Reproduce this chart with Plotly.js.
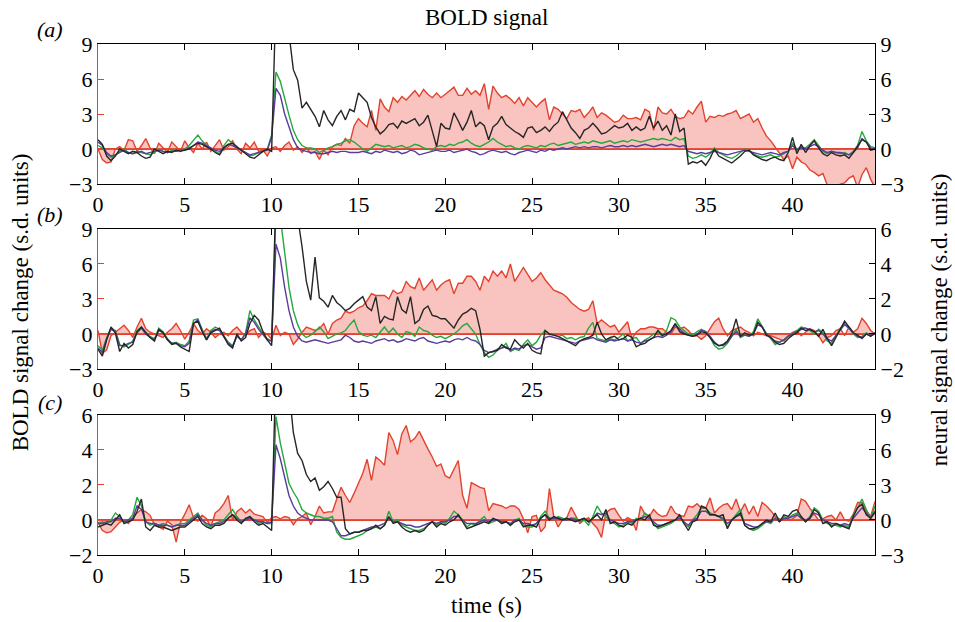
<!DOCTYPE html>
<html><head><meta charset="utf-8">
<script src="https://cdn.plot.ly/plotly-3.0.1.min.js"></script>
<style>html,body{margin:0;padding:0;background:#fff}#chart{width:955px;height:622px}</style>
</head><body><div id="chart"></div>
<script>
// sampling interval of all series (s)
const dt = 0.25;
const nSamples = 180;

// ---------- panel (a) ----------
const aNeural = [0,-0.9,-1.2,-1.1,0,0.2,-0.1,0.8,0.7,-0.2,0.3,0.9,0.1,-0.4,0.5,0.1,-0.3,0.6,0.2,-0.2,
0.7,0.1,-0.3,0.5,0.0,0.6,-0.2,0.3,0.8,-0.1,0.2,0.7,0.0,-0.4,0.5,0.1,0.6,-0.2,-0.1,-0.6,
0.1,0.2,-0.2,0.3,0.6,-0.1,0.2,-0.3,0.1,-0.4,-0.2,-0.9,-0.1,-0.5,0.2,0.4,0.3,0.9,0.5,2.0,
2.6,2.2,1.9,3.3,1.6,4.3,3.6,3.2,4.4,4.0,4.5,4.2,4.6,5.0,4.5,5.1,4.7,4.4,4.8,4.4,
4.7,5.0,5.3,4.6,4.6,5.2,4.7,5.0,4.6,5.6,3.4,5.4,4.8,4.4,4.6,4.3,3.9,4.4,3.7,4.4,
4.0,3.6,4.0,4.3,2.5,3.6,3.4,3.0,2.6,3.3,3.2,3.4,2.7,3.1,3.6,2.7,3.1,2.9,2.6,2.3,
2.4,2.9,2.6,2.6,2.7,2.5,3.4,3.2,1.6,3.6,3.1,3.0,3.4,2.8,2.6,2.7,3.3,3.0,3.6,4.1,
2.3,2.8,2.7,2.9,2.8,3.0,3.1,3.3,2.6,2.8,3.0,2.3,2.6,1.8,1.1,0.7,0.2,-0.4,-0.9,-0.6,
-1.7,-0.7,-1.1,-1.3,-1.8,-2.0,-2.3,-2.1,-3.1,-3.3,-3.4,-3.0,-2.9,-2.5,-2.3,-3.3,-2.2,-1.6,-2.6,-3.3];
const aGreen = [0.3,0.1,-0.4,-0.7,-0.5,-0.2,0.0,-0.3,-0.4,-0.2,-0.3,-0.4,-0.5,-0.3,0.0,-0.2,-0.3,-0.1,-0.2,-0.1,
0.0,0.3,0.8,1.2,0.7,0.3,0.0,-0.2,-0.4,0.3,0.8,0.5,0.2,-0.1,-0.3,-0.6,-0.5,-0.3,-0.2,0.0,
1.2,6.6,5.8,4.3,2.9,1.6,0.8,0.3,0.1,0.1,0.0,-0.3,-0.1,0.1,0.2,0.4,0.5,0.7,0.8,0.6,
0.3,0.0,-0.2,0.1,0.4,0.3,0.2,0.3,0.1,0.2,0.3,0.1,0.2,0.4,0.3,0.1,0.0,-0.1,0.2,0.3,
0.2,0.4,0.3,0.5,0.6,0.8,0.5,0.3,0.2,0.4,0.6,0.9,0.6,0.4,0.2,0.3,0.1,0.0,0.2,0.3,
0.2,0.1,0.3,0.2,0.4,0.5,0.3,0.4,0.5,0.6,0.4,0.5,0.6,0.5,0.7,0.6,0.5,0.6,0.7,0.5,
0.6,0.7,0.6,0.8,0.7,0.6,0.7,0.8,0.9,0.8,0.9,0.8,0.7,1.0,0.8,0.9,-0.6,-0.8,-0.7,-0.5,
-0.7,-0.4,0.1,-0.3,-0.5,-0.7,-0.8,-0.6,-0.3,0.0,-0.1,-0.4,-0.6,-0.7,-0.6,-0.5,-0.7,-0.6,-0.4,-0.2,
0.5,0.0,0.2,0.1,0.4,0.8,0.3,-0.2,-0.4,-0.2,-0.3,-0.4,-0.3,-0.5,-0.2,0.3,1.5,0.7,0.2,0.1];
const aPurple = [0.6,0.3,-0.3,-0.6,-0.5,-0.3,-0.1,-0.3,-0.4,-0.3,-0.2,-0.4,-0.3,-0.2,-0.1,-0.2,-0.3,-0.2,-0.2,-0.1,
-0.1,0.1,0.3,0.6,0.5,0.3,0.1,-0.1,-0.2,0.1,0.4,0.3,0.1,-0.1,-0.3,-0.5,-0.4,-0.3,-0.2,-0.1,
1.0,5.2,4.6,3.0,1.9,0.8,0.1,-0.1,-0.2,-0.3,-0.3,-0.4,-0.4,-0.3,-0.2,-0.3,-0.2,-0.2,-0.3,-0.3,
-0.3,-0.2,-0.3,-0.4,-0.2,-0.3,-0.1,-0.2,-0.3,-0.2,-0.4,-0.3,-0.1,-0.2,-0.5,-0.4,-0.3,-0.2,-0.1,-0.2,
-0.2,-0.1,-0.3,-0.2,-0.1,0.0,-0.2,-0.3,-0.5,-0.4,-0.2,-0.1,-0.2,-0.3,-0.2,-0.4,-0.5,-0.3,-0.2,-0.1,
-0.2,-0.3,-0.1,-0.2,0.0,-0.1,0.0,0.1,0.0,0.1,0.2,0.1,0.2,0.1,0.2,0.2,0.1,0.2,0.3,0.2,
0.2,0.3,0.2,0.3,0.2,0.3,0.4,0.3,0.2,0.3,0.4,0.3,0.4,0.3,0.2,0.3,-0.2,-0.3,-0.4,-0.3,
-0.4,-0.3,-0.2,-0.3,-0.4,-0.5,-0.4,-0.3,-0.2,-0.1,-0.2,-0.3,-0.4,-0.5,-0.4,-0.3,-0.4,-0.5,-0.3,-0.2,
0.3,-0.1,0.1,0.0,0.2,0.4,0.2,-0.1,-0.3,-0.2,-0.3,-0.3,-0.4,-0.5,-0.3,0.1,0.9,0.6,0.1,0.0];
const aBlack = [0.8,0.4,-0.6,-1.0,-0.6,0.0,-0.2,-0.4,-0.2,-0.3,-0.6,-0.8,-0.7,0.0,-0.2,-0.4,-0.2,-0.3,-0.1,-0.2,
-0.1,0.0,0.3,0.5,0.4,0.2,0.0,-0.3,-0.5,0.1,0.4,0.5,0.2,-0.1,-0.4,-0.7,-0.8,-0.5,-0.2,0.0,
-0.2,13,14,13,10,6.8,5.9,3.5,4.0,3.4,2.8,1.9,3.3,2.5,2.0,2.8,3.3,2.5,3.4,3.2,
4.8,4.4,4.0,2.7,1.9,1.3,1.6,2.1,2.2,1.8,2.4,2.2,2.4,2.6,2.0,2.3,2.9,1.6,0.2,2.2,
1.8,1.7,3.1,2.4,1.6,2.3,3.3,1.9,2.3,2.0,0.8,1.9,2.2,2.8,2.1,1.8,1.5,1.3,1.0,1.8,
1.9,1.4,1.6,1.9,1.5,2.0,2.3,3.2,2.5,1.8,1.4,0.9,1.6,1.8,2.2,1.8,1.3,1.4,1.7,2.0,
1.8,1.9,2.2,1.6,1.9,1.6,1.8,2.8,1.8,2.4,1.6,2.0,1.2,3.0,1.5,1.8,-1.3,-1.1,-1.2,-1.0,
-1.4,-0.8,0.0,-0.6,-0.8,-1.0,-1.2,-0.9,-0.6,-0.2,-0.1,-0.5,-0.7,-0.9,-1.0,-0.8,-0.7,-0.9,-1.0,-0.3,
1.0,-0.4,0.4,-0.3,0.3,0.7,0.1,-0.4,-0.6,-0.3,-0.5,-0.6,-0.5,-0.8,-0.3,0.2,0.8,0.6,-0.1,0.0];

// ---------- panel (b) ----------
const bNeural = [0.2,-1.1,-0.9,-0.1,0.1,0.3,0.5,0.2,-0.2,0.4,0.9,0.3,0.1,0.0,-0.1,-0.2,0.1,0.3,0.6,0.2,
-0.3,0.1,0.6,0.2,0.0,0.3,0.1,-0.2,0.0,0.1,-0.1,0.2,0.4,0.1,-0.1,0.2,0.3,-0.2,0.1,0.0,
-0.3,0.5,-0.1,0.1,0.0,-0.6,-0.3,0.1,0.4,0.3,0.2,0.3,0.6,0.0,0.6,0.8,0.9,1.3,1.2,1.3,
1.5,1.6,1.9,2.3,2.2,2.2,2.2,2.0,2.5,2.3,2.4,3.0,2.7,2.6,3.2,2.5,2.8,3.1,2.5,2.8,
3.0,3.1,2.3,2.9,2.9,3.3,3.3,3.0,2.5,3.3,3.0,3.6,3.3,3.6,3.2,4.0,3.0,3.4,3.8,3.4,
3.0,3.2,3.5,3.1,2.8,2.5,2.4,2.3,2.1,1.8,1.6,1.4,1.3,1.4,1.9,0.6,0.8,0.6,0.4,0.5,
0.1,0.4,0.7,-0.3,0.1,0.3,0.3,0.4,0.4,0.3,0.3,0.1,0.0,0.4,0.3,0.4,0.2,-0.1,-0.1,-0.3,
-0.1,0.3,0.7,0.9,0.3,-0.1,0.2,0.3,0.4,0.2,0.1,-0.1,0.1,0.0,-0.1,-0.1,-0.2,-0.3,-0.4,-0.1,
0.1,0.2,-0.1,0.1,0.3,0.2,-0.1,-0.5,-0.2,-0.1,0.2,0.3,-0.1,0.4,0.1,0.3,0.9,0.6,0.2,0.0];
const bGreen = [-1.0,-1.4,-0.3,0.5,0.3,-0.9,-1.1,-0.9,-0.6,0.3,0.6,0.0,-0.2,-0.4,0.5,0.2,-0.4,-0.8,-0.7,-0.9,
-1.0,-0.6,1.2,1.3,0.4,-0.4,0.3,0.6,0.4,-0.1,-0.7,-1.0,-0.2,-0.5,0.1,2.0,1.2,0.6,0.0,-0.4,
-0.6,10.5,10.0,7.0,4.0,2.0,0.8,0.0,-0.3,-0.1,0.2,0.6,0.2,-0.4,-0.2,0.0,0.1,0.3,0.8,1.2,
0.2,-0.1,-0.2,-0.1,-0.3,0.2,0.6,0.1,0.5,0.0,-0.3,0.2,0.1,-0.2,0.6,0.3,0.2,-0.1,-0.3,-0.2,
-0.4,-0.2,0.0,0.3,0.7,0.9,0.4,0.0,-0.9,-1.6,-2.0,-1.8,-1.4,-1.2,-0.8,-1.5,-1.3,-1.4,-0.9,-0.5,
-1.0,-0.7,-0.1,0.3,0.0,-0.1,-0.2,-0.1,-0.4,-0.3,-0.5,-0.3,-0.2,0.5,1.0,-0.4,-0.5,-0.6,-0.4,-0.5,
-0.3,0.0,-0.6,-0.4,-0.3,-0.8,-0.5,-0.3,0.0,0.1,-0.2,0.3,1.4,1.2,0.6,0.3,0.0,-0.1,0.2,0.4,
0.2,-0.3,-1.0,-1.3,-1.2,-0.8,-0.2,0.4,-0.3,-0.1,-0.2,0.2,1.3,0.7,0.0,-0.4,-0.9,-0.7,-0.5,-0.2,
0.0,0.3,0.6,0.5,0.3,0.0,0.4,0.1,-0.6,-0.8,-0.1,0.5,0.9,0.5,0.0,-0.3,-0.2,0.1,-0.1,0.0];
const bPurple = [-1.2,-1.6,-0.4,0.4,0.2,-1.0,-1.0,-0.8,-0.7,0.1,0.5,0.0,-0.3,-0.5,0.3,0.1,-0.5,-0.8,-0.8,-1.0,
-1.1,-0.8,0.9,1.2,0.3,-0.5,0.2,0.4,0.3,-0.2,-0.8,-1.1,-0.2,-0.5,0.0,1.4,1.0,0.4,-0.1,-0.5,
-0.6,7.7,6.5,4.0,2.0,0.6,-0.2,-0.6,-0.7,-0.6,-0.5,-0.6,-0.7,-0.8,-0.7,-0.6,-0.5,-0.1,-0.3,-0.6,
-0.7,-0.6,-0.7,-0.8,-0.6,-0.5,-0.4,-0.6,-0.5,-0.7,-0.6,-0.4,-0.5,-0.6,-0.4,-0.3,-0.6,-0.7,-0.8,-0.7,
-0.6,-0.7,-0.5,-0.4,-0.5,-0.3,-0.5,-0.6,-0.9,-1.4,-1.6,-1.5,-1.3,-1.2,-1.1,-1.4,-1.2,-1.3,-1.0,-0.9,
-1.1,-1.3,-1.2,-0.3,-0.2,-0.3,-0.4,-0.5,-0.6,-0.7,-0.8,-0.6,-0.5,-0.4,-0.3,-0.5,-0.6,-0.7,-0.5,-0.6,
-0.5,-0.4,-0.6,-0.5,-0.7,-0.8,-0.6,-0.5,-0.3,-0.2,-0.3,-0.1,0.2,0.8,0.4,0.1,-0.1,-0.2,0.0,0.3,
0.2,-0.2,-0.7,-1.0,-1.0,-0.7,-0.2,0.2,-0.2,-0.1,-0.2,0.0,0.8,0.6,0.0,-0.3,-0.6,-0.7,-0.5,-0.2,
0.0,0.2,0.4,0.5,0.4,0.2,0.3,0.0,-0.4,-0.6,-0.1,0.4,0.8,0.5,0.1,-0.2,-0.3,0.0,-0.1,0.0];
const bBlack = [-1.3,-1.9,-0.5,0.6,0.1,-1.5,-0.8,-1.2,-0.9,0.2,0.6,0.1,-0.3,-0.6,0.4,0.1,-0.5,-0.9,-0.8,-1.1,
-1.3,-1.5,0.9,1.1,0.2,-0.5,0.1,0.3,0.5,-0.2,-0.9,-1.2,0.0,-0.6,-0.3,0.9,1.6,1.2,0.2,-0.5,
-1.0,12,14,14,13,12,10,7.5,4.5,2.9,6.6,3.1,2.8,2.3,3.3,2.7,2.4,2.0,2.2,2.6,
2.9,3.2,2.3,2.0,3.2,0.9,1.5,1.3,1.2,3.2,2.1,1.8,3.2,0.9,1.2,2.1,2.4,1.6,1.5,1.3,
1.3,0.9,0.5,1.2,1.7,1.9,2.2,2.0,0.4,-1.9,-1.6,-1.5,-1.4,-0.9,-1.2,-1.3,-0.5,-0.9,-1.2,-0.8,
-1.4,-1.6,-1.7,0.3,0.0,-0.1,-0.2,-0.4,-0.6,-0.8,-1.0,-0.6,-0.4,-0.3,-0.1,1.0,0.0,-0.5,-0.3,-0.2,
-0.5,-0.4,-0.1,-0.3,-1.1,-0.9,-0.8,-0.5,-0.3,0.3,-0.1,0.0,0.3,0.9,0.2,0.0,-0.1,-0.2,-0.1,0.2,
0.1,-0.3,-0.8,-1.0,-0.9,-0.6,0.0,1.3,-0.2,0.1,-0.1,0.0,1.0,0.6,-0.1,-0.3,-0.7,-0.9,-0.8,-0.4,
-0.1,0.1,0.5,0.3,0.4,0.2,-0.2,0.4,-0.4,-1.0,-0.3,0.4,1.1,0.6,0.1,-0.1,-0.4,0.0,-0.2,0.1];

// ---------- panel (c) ----------
const cNeural = [-0.2,-0.9,-1.1,-1.0,-0.6,-0.2,0.0,-0.3,0.2,0.6,0.9,0.7,0.4,-0.4,-0.6,-0.8,-0.1,-0.4,-1.9,-0.2,
0.5,1.3,0.2,-0.1,0.4,0.1,-0.6,0.6,0.9,1.4,2.1,0.0,0.7,1.0,0.6,0.9,0.5,0.4,0.3,-0.2,
0.2,0.3,0.1,0.3,0.2,-0.4,0.1,0.3,0.6,-0.4,0.3,1.2,0.6,0.7,0.7,1.8,2.8,2.1,1.5,2.3,
3.1,4.0,5.2,3.4,5.4,5.1,4.7,7.5,6.8,5.6,7.4,8.1,6.7,7.0,7.6,6.8,6.1,5.4,4.6,4.8,
3.8,3.6,4.4,5.1,2.1,1.0,3.2,3.0,2.8,2.7,0.8,1.4,1.3,1.2,1.0,1.2,1.2,0.9,0.1,-1.1,
0.3,0.4,-1.0,-0.6,2.7,0.3,-0.6,0.0,0.2,1.1,0.4,-0.3,0.0,0.2,-0.3,-0.7,-1.5,0.6,0.9,1.0,
0.4,-0.1,0.2,0.0,-0.9,1.2,0.5,0.3,0.9,0.5,0.3,0.4,1.2,0.6,0.4,0.3,1.2,1.1,1.4,1.0,
1.0,1.9,0.6,1.0,1.3,1.4,0.9,1.8,0.7,1.4,0.5,1.2,0.3,1.5,1.2,0.8,0.3,0.1,0.0,0.0,
0.1,0.4,1.8,1.6,1.0,0.5,0.0,0.1,0.3,0.4,0.0,0.7,0.0,-0.1,0.5,1.5,1.5,0.8,0.3,1.6];
const cGreen = [-0.2,-0.1,-0.2,0.0,0.4,0.2,-0.1,0.0,0.3,1.3,0.8,-0.1,-0.3,-0.2,-0.3,-0.2,-0.3,-0.4,-0.3,-0.2,
-0.2,0.0,0.2,0.4,0.0,-0.3,-0.4,-0.2,-0.1,0.0,0.3,0.6,0.2,-0.1,0.0,0.2,0.0,-0.2,-0.1,-0.2,
-0.2,5.9,4.4,3.2,2.1,1.6,1.2,0.6,0.4,0.3,0.2,0.2,0.1,0.1,0.2,-0.7,-1.0,-1.1,-1.1,-1.0,
-0.9,-0.8,-0.6,-0.5,-0.4,-0.5,-0.3,0.5,-0.1,0.0,-0.3,-0.4,-0.5,-0.6,-0.6,-0.5,-0.3,-0.1,-0.3,-0.1,
-0.2,0.1,0.5,0.3,0.0,-0.4,-0.2,-0.3,0.0,0.2,-0.2,-0.1,0.0,-0.2,-0.1,-0.3,0.0,0.1,-0.3,-0.4,
-0.4,-0.2,0.2,0.5,0.1,0.0,0.2,0.1,0.0,0.1,0.1,-0.1,0.0,-0.3,0.2,0.8,0.4,0.2,-0.1,-0.2,
-0.4,-0.3,-0.1,-0.2,0.1,0.0,0.4,0.2,-0.2,-0.5,-0.4,-0.3,-0.2,0.0,0.2,-0.2,-0.4,0.0,0.3,0.7,
0.7,0.4,0.3,0.2,0.0,-0.4,0.0,0.3,0.6,-0.3,-0.5,-0.6,-0.5,-0.3,-0.1,-0.2,0.1,-0.1,0.2,0.1,
0.3,0.4,0.1,-0.1,0.2,0.7,0.5,0.0,-0.2,-0.3,-0.3,-0.4,-0.3,-0.4,0.3,0.7,1.2,0.6,0.1,0.8];
const cPurple = [-0.2,-0.2,-0.1,-0.1,0.1,0.1,-0.1,0.0,0.1,0.8,0.6,-0.1,-0.2,-0.2,-0.3,-0.3,-0.3,-0.4,-0.3,-0.3,
-0.3,-0.1,0.1,0.3,0.0,-0.2,-0.3,-0.2,-0.2,-0.1,0.1,0.3,0.1,-0.1,0.0,0.1,0.0,-0.1,-0.1,-0.2,
-0.1,4.3,3.5,2.5,1.4,0.8,0.4,0.2,0.1,0.0,0.0,0.0,0.0,0.0,-0.1,-0.5,-0.9,-0.9,-0.8,-0.7,
-0.7,-0.6,-0.5,-0.4,-0.4,-0.3,-0.2,0.1,-0.1,-0.1,-0.2,-0.3,-0.3,-0.4,-0.4,-0.3,-0.2,-0.1,-0.2,-0.1,
-0.1,0.0,0.2,0.2,0.0,-0.2,-0.2,-0.2,-0.1,0.0,-0.1,0.0,0.0,-0.1,-0.1,-0.2,0.0,0.0,-0.2,-0.2,
-0.3,-0.2,0.1,0.3,0.1,0.1,0.1,0.0,0.0,0.1,0.0,0.0,0.1,-0.1,0.1,0.4,0.3,0.4,0.0,-0.1,
-0.2,-0.2,-0.1,-0.1,0.0,0.1,0.2,0.1,-0.1,-0.3,-0.3,-0.2,-0.1,0.0,0.1,-0.1,-0.3,0.0,0.1,0.5,
0.5,0.3,0.3,0.2,0.1,-0.2,0.0,0.2,0.3,-0.2,-0.3,-0.4,-0.4,-0.2,-0.1,-0.1,0.1,-0.1,0.1,0.1,
0.2,0.3,0.1,0.0,0.1,0.4,0.3,0.0,-0.1,-0.2,-0.2,-0.3,-0.2,-0.3,0.1,0.4,0.7,0.4,0.1,0.4];
const cBlack = [-0.4,-0.3,-0.2,-0.3,0.0,0.3,-0.2,-0.1,0.0,0.5,1.2,-0.4,-0.6,-0.3,-0.4,-0.4,-0.5,-0.6,-0.5,-0.4,
-0.4,-0.2,0.0,0.2,-0.2,-0.4,-0.5,-0.3,-0.3,-0.2,0.1,0.3,0.0,-0.2,0.1,0.2,-0.1,-0.3,-0.2,-0.4,
-0.6,9,11,10,7.5,5.0,3.8,3.4,2.6,2.2,2.4,1.7,1.9,2.2,1.8,1.3,1.3,-0.5,-0.8,-0.7,
-0.7,-0.6,-0.6,-0.5,-0.3,-0.5,-0.3,0.2,-0.2,-0.1,-0.4,-0.6,-0.7,-0.6,-0.7,-0.6,-0.3,-0.1,-0.4,-0.2,
-0.3,-0.1,0.0,0.3,-0.1,-0.5,-0.4,-0.3,-0.2,-0.1,-0.2,0.1,0.0,-0.2,-0.1,-0.3,-0.1,0.0,-0.4,-0.3,
-0.3,-0.4,0.1,0.3,0.0,0.2,0.1,0.0,0.1,0.0,-0.1,0.0,0.1,-0.1,0.1,0.3,0.0,0.6,-0.2,-0.1,
-0.3,-0.4,-0.2,-0.3,0.0,0.1,0.0,0.3,-0.3,-0.4,-0.3,-0.2,-0.1,0.0,0.3,-0.2,-0.6,-0.1,0.0,0.8,
0.7,0.3,0.3,0.2,0.3,-0.5,0.0,0.2,0.4,-0.3,-0.5,-0.5,-0.4,-0.2,0.0,-0.1,0.4,-0.1,0.3,0.2,
0.5,0.6,0.2,-0.1,0.1,0.6,0.4,-0.2,-0.1,-0.4,-0.2,-0.3,-0.4,-0.5,0.2,0.7,0.9,0.3,0.1,0.5];

// tick labels
const xTickVals = [0,5,10,15,20,25,30,35,40];
const panelLabels = ['(a)','(b)','(c)'];

const time = Array.from({length: nSamples}, (_, i) => i * dt);

const panels = [
  {neural: aNeural, green: aGreen, purple: aPurple, black: aBlack, bold: [-3,9,3], neur: [-3,9,3], dom: [0.7260,1.0]},
  {neural: bNeural, green: bGreen, purple: bPurple, black: bBlack, bold: [-3,9,3], neur: [-2,6,2], dom: [0.3640,0.6380]},
  {neural: cNeural, green: cGreen, purple: cPurple, black: cBlack, bold: [-2,6,2], neur: [-3,9,3], dom: [0.0,0.2740]}
];

const FONT = "'Liberation Serif', 'Times New Roman', Times, serif";
const RED = '#e2432e';
const traces = [];
const layout = {
  width: 955, height: 622,
  margin: {l: 98, r: 80, t: 44, b: 67},
  paper_bgcolor: '#fff', plot_bgcolor: 'rgba(0,0,0,0)',
  showlegend: false,
  font: {family: FONT, size: 22, color: '#000'},
  annotations: []
};

panels.forEach((p, k) => {
  const xs = k === 0 ? '' : String(k + 1);
  const yN = String(2 * k + 1), yB = String(2 * k + 2);
  const xName = 'x' + xs, yNName = 'y' + (yN === '1' ? '' : yN), yBName = 'y' + yB;
  traces.push({x: time, y: p.neural, xaxis: xName, yaxis: yNName, type: 'scatter', mode: 'lines',
    fill: 'tozeroy', fillcolor: 'rgba(240,105,95,0.40)', line: {color: RED, width: 1.4}, hoverinfo: 'skip'});
  traces.push({x: time, y: p.green, xaxis: xName, yaxis: yBName, type: 'scatter', mode: 'lines',
    line: {color: '#25a83c', width: 1.4}, hoverinfo: 'skip'});
  traces.push({x: time, y: p.purple, xaxis: xName, yaxis: yBName, type: 'scatter', mode: 'lines',
    line: {color: '#5a3c9c', width: 1.4}, hoverinfo: 'skip'});
  traces.push({x: time, y: p.black, xaxis: xName, yaxis: yBName, type: 'scatter', mode: 'lines',
    line: {color: '#262626', width: 1.4}, hoverinfo: 'skip'});

  layout['xaxis' + xs] = {
    anchor: yNName, domain: [0, 1], range: [0, 44.75],
    tickvals: xTickVals, ticks: 'inside', ticklen: 6, tickcolor: '#000', tickwidth: 1,
    showline: true, linecolor: '#000', linewidth: 1.2, mirror: 'ticks',
    showgrid: false, zeroline: false, tickfont: {family: FONT, size: 22, color: '#000'}
  };
  layout['yaxis' + (yN === '1' ? '' : yN)] = {
    anchor: xName, domain: p.dom, side: 'right', range: [p.neur[0], p.neur[1]], dtick: p.neur[2], tick0: 0,
    ticks: 'inside', ticklen: 6, tickcolor: '#000', showline: true, linecolor: '#000', linewidth: 1.2,
    showgrid: false, zeroline: true, zerolinecolor: RED, zerolinewidth: 1.6,
    tickfont: {family: FONT, size: 22, color: '#000'}
  };
  layout['yaxis' + yB] = {
    anchor: xName, overlaying: yNName, side: 'left', range: [p.bold[0], p.bold[1]], dtick: p.bold[2], tick0: 0,
    ticks: 'inside', ticklen: 6, tickcolor: RED, showline: true, linecolor: RED, linewidth: 1.2,
    showgrid: false, zeroline: false, tickfont: {family: FONT, size: 22, color: '#000'}
  };
});

const labY = [1.0274, 0.6654, 0.2994];
panelLabels.forEach((t, k) => layout.annotations.push({
  text: '<i>' + t + '</i>', xref: 'paper', yref: 'paper', x: -0.062, y: labY[k],
  showarrow: false, font: {family: FONT, size: 22, color: '#000'}, xanchor: 'center', yanchor: 'middle'
}));
layout.annotations.push({text: 'BOLD signal', xref: 'paper', yref: 'paper', x: 0.5, y: 1.051,
  showarrow: false, font: {family: FONT, size: 23, color: '#000'}, xanchor: 'center', yanchor: 'middle'});
layout.annotations.push({text: 'time (s)', xref: 'paper', yref: 'paper', x: 0.5, y: -0.098,
  showarrow: false, font: {family: FONT, size: 23, color: '#000'}, xanchor: 'center', yanchor: 'middle'});
layout.annotations.push({text: 'BOLD signal change (s.d. units)', xref: 'paper', yref: 'paper', x: -0.100, y: 0.495,
  textangle: -90, showarrow: false, font: {family: FONT, size: 23, color: '#000'}, xanchor: 'center', yanchor: 'middle'});
layout.annotations.push({text: 'neural signal change (s.d. units)', xref: 'paper', yref: 'paper', x: 1.084, y: 0.46,
  textangle: -90, showarrow: false, font: {family: FONT, size: 23, color: '#000'}, xanchor: 'center', yanchor: 'middle'});

Plotly.newPlot('chart', traces, layout, {staticPlot: true, displayModeBar: false});
</script>
</body></html>
